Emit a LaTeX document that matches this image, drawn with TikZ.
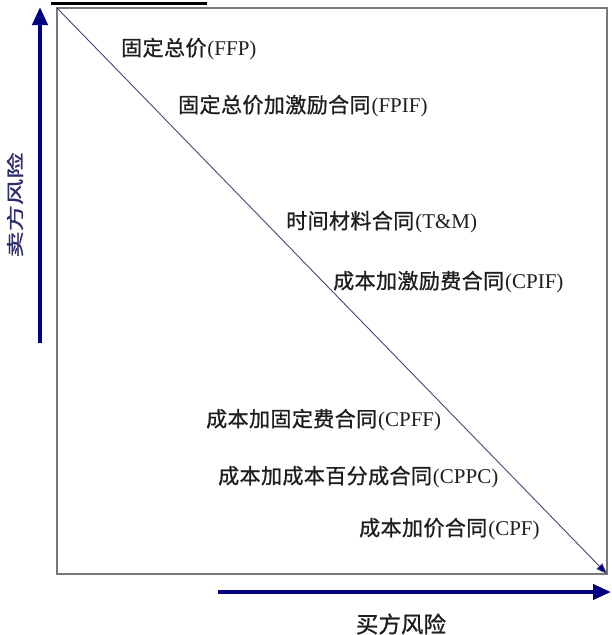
\documentclass[tikz,border=0pt]{standalone}
\usepackage{fontspec}
\setmainfont{Liberation Serif}
\newfontfamily\cjk[LetterSpace=2,FakeBold=0.9]{Noto Sans CJK SC}
\newfontfamily\cjkplain[FakeBold=1.0]{Noto Sans CJK SC}
\usetikzlibrary{arrows.meta}
\definecolor{navy}{RGB}{0,0,128}
\definecolor{boxgray}{RGB}{120,120,120}
\definecolor{diag}{RGB}{70,70,120}
\definecolor{txt}{RGB}{30,30,30}
\definecolor{vlab}{RGB}{45,45,110}
\tikzset{
  lbl/.style={anchor=west, inner sep=0pt, text=txt, font=\fontsize{21}{24}\selectfont},
  riskarrow/.style={draw=navy, line width=4pt, -{Triangle[length=18pt,width=15pt]}},
}
\newcommand{\ctext}[2]{{\cjk\fontsize{21}{24}\selectfont #1}\hspace{1pt}#2}
\begin{document}
\begin{tikzpicture}[x=1pt,y=-1pt]
\useasboundingbox (0,0) rectangle (611,635);
% cut-off underline at top
\draw[black, line width=3pt] (51,3) -- (207,3);
% box
\coordinate (tl) at (57,8);
\coordinate (br) at (607,574);
\draw[boxgray, line width=1.6pt] (tl) rectangle (br);
% diagonal
\draw[diag, line width=0.9pt, -{Triangle[length=11pt,width=8pt,fill=navy]}] (tl) -- (br);
% seller risk arrow
\coordinate (vs) at (40,343);
\coordinate (ve) at (40,7);
\draw[riskarrow] (vs) -- (ve);
\node[rotate=90, text=vlab, inner sep=0pt] (seller) at (15,205)
  {\scalebox{1.5}[1]{\cjkplain\fontsize{17.5}{19}\selectfont 卖方风险}};
% buyer risk arrow
\coordinate (hs) at (218,592);
\coordinate (he) at (611,592);
\draw[riskarrow] (hs) -- (he);
\node[inner sep=0pt, text=txt] (buyer) at (401,624)
  {\cjkplain\fontsize{22.5}{24}\selectfont 买方风险};
% labels
\node[lbl] (ffp)  at (121,49)  {\ctext{固定总价}{(FFP)}};
\node[lbl] (fpif) at (178,106) {\ctext{固定总价加激励合同}{(FPIF)}};
\node[lbl] (tm)   at (286,222) {\ctext{时间材料合同}{(T\&M)}};
\node[lbl] (cpif) at (333,282) {\ctext{成本加激励费合同}{(CPIF)}};
\node[lbl] (cpff) at (206,420) {\ctext{成本加固定费合同}{(CPFF)}};
\node[lbl] (cppc) at (218,477) {\ctext{成本加成本百分成合同}{(CPPC)}};
\node[lbl] (cpf)  at (359,529) {\ctext{成本加价合同}{(CPF)}};
\end{tikzpicture}
\end{document}
